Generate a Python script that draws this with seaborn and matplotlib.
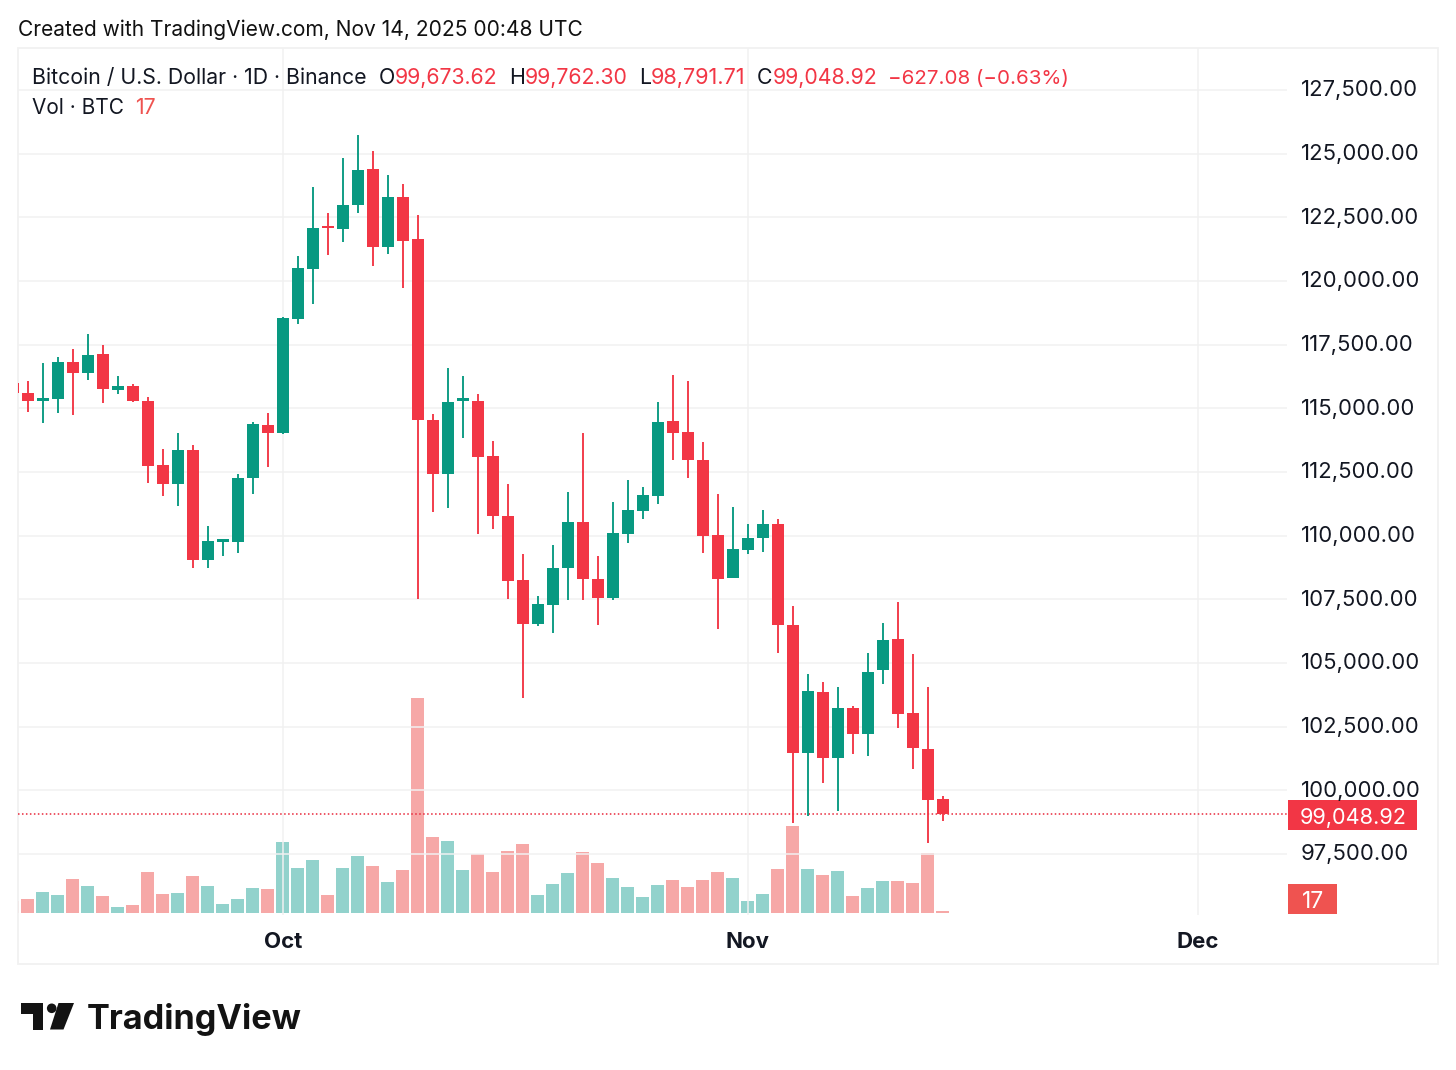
import pandas as pd
import matplotlib
matplotlib.use("Agg")
import matplotlib.pyplot as plt
import matplotlib.transforms as mtrans
import seaborn as sns
from matplotlib.patches import Rectangle, Polygon, Circle

sns.set_theme(style="white")
plt.rcParams["font.family"] = ["Inter", "DejaVu Sans"]

# === Data ===
days = list(range(-18, 45))  # days counted from Oct 1
opens = [115990, 115590, 115300, 115370, 116830, 116400, 117120, 115730, 115860, 115280, 112760, 112030, 113360,
         109030, 109760, 109760, 112280, 114330, 114040, 118520, 120480, 122120, 122040, 122970, 124390, 121350,
         123300, 121640, 114540, 112430, 115300, 115300, 113130, 110780, 108250, 106530, 107290, 108740, 110540,
         108310, 107540, 110080, 110980, 111570, 114500, 114060, 112970, 110010, 108340, 109440, 109900, 110470,
         106480, 101450, 103850, 101280, 103230, 102220, 104720, 105940, 103020, 101630, 99673.62]
highs = [115990, 116080, 116770, 117000, 117330, 117920, 117470, 116280, 115940, 115430, 113390, 114020, 113560,
         110390, 109830, 112410, 114460, 114820, 118570, 120980, 123680, 122680, 124840, 125750, 125120, 124170,
         123800, 122580, 114790, 116570, 116280, 115560, 113700, 112040, 109290, 107630, 109630, 111730, 114020,
         109190, 111310, 112170, 111900, 115240, 116320, 116070, 113670, 111650, 111120, 110450, 111000, 110640,
         107240, 104550, 104240, 104040, 103300, 105390, 106580, 107380, 105350, 104070, 99762.30]
lows = [115600, 114870, 114410, 114800, 114740, 116110, 115220, 115560, 115250, 112060, 111570, 111150, 108720,
        108740, 109210, 109310, 111640, 112710, 114000, 118320, 119110, 121030, 121540, 122680, 120600, 121060,
        119740, 107500, 110940, 111070, 113820, 110080, 110250, 107500, 103610, 106450, 106180, 107470, 107460,
        106490, 107480, 109720, 110670, 111250, 112980, 112250, 109330, 106320, 108340, 109270, 109370, 105380,
        98730, 98990, 100300, 99190, 101410, 101350, 104190, 102460, 100820, 97940, 98791.71]
closes = [115600, 115300, 115380, 116830, 116400, 117080, 115750, 115880, 115290, 112750, 112030, 113350, 109030,
          109780, 109820, 112250, 114370, 114040, 118550, 120500, 122080, 122070, 122980, 124350, 121350, 123300,
          121580, 114530, 112430, 115240, 115350, 113100, 110780, 108230, 106530, 107300, 108720, 110540, 108300,
          107560, 110090, 111000, 111580, 114460, 114040, 112960, 110000, 108300, 109460, 109910, 110470, 106490,
          101480, 103890, 101280, 103230, 102220, 104630, 105900, 103010, 101670, 99630, 99048.92]
volume = [99, 116, 176, 153, 289, 227, 145, 48, 65, 349, 159, 167, 312, 227, 77, 116, 213, 198, 598, 380, 448, 153,
          380, 482, 394, 261, 363, 1825, 643, 606, 363, 499, 343, 524, 584, 153, 244, 334, 516, 425, 295, 221, 130,
          235, 281, 221, 281, 343, 295, 99, 159, 371, 734, 371, 320, 357, 145, 207, 266, 266, 252, 507, 17]

price_ticks = [97500 + 2500 * i for i in range(13)]
month_ticks = [0, 31, 61]
month_labels = ["Oct", "Nov", "Dec"]

# === Colours ===
GREEN = "#089981"
RED = "#F23645"
VOL_GREEN = "#26A69A"
VOL_RED = "#EF5350"
GRID = "#F1F1F1"
INK = "#131722"

df = pd.DataFrame({"day": days, "open": opens, "high": highs, "low": lows, "close": closes, "volume": volume})
df["side"] = ["up" if c >= o else "down" for o, c in zip(df["open"], df["close"])]
df["body"] = df["side"].map({"up": GREEN, "down": RED})

W, H = 1456, 1070
fig = plt.figure(figsize=(W / 100, H / 100), dpi=100, facecolor="white")


def fx(px):
    return px / W


def fy(px):
    return 1 - px / H


# === Outer frame ===
fig.add_artist(Rectangle((fx(18), fy(964)), fx(1420), 916 / H, fill=False, edgecolor=GRID, lw=1.3,
                         transform=fig.transFigure))

ax = fig.add_axes([fx(18), fy(915), fx(1269), 867 / H])
ax.set_facecolor("none")
for side in ax.spines.values():
    side.set_visible(False)

# === Volume pane ===
vol_ax = ax.twinx()
sns.barplot(data=df, x="day", y="volume", hue="side", palette={"up": VOL_GREEN, "down": VOL_RED},
            hue_order=["up", "down"], native_scale=True, dodge=False, width=0.87, saturation=1, alpha=0.5,
            legend=False, linewidth=0, ax=vol_ax)
vol_ax.set_ylim(-20, 7350)
vol_ax.set_ylabel("")
vol_ax.set_xlabel("")
vol_ax.set_yticks([])
for side in vol_ax.spines.values():
    side.set_visible(False)

# === Candles ===
ax.vlines(df["day"], df["low"], df["high"], colors=df["body"], lw=1.35, zorder=3)
ax.bar(df["day"], (df["close"] - df["open"]).abs().clip(lower=90), bottom=df[["open", "close"]].min(axis=1),
       width=0.8, color=df["body"], linewidth=0, zorder=4)

ax.set_zorder(vol_ax.get_zorder() + 1)
ax.set_xlim(-17.647, 66.953)
ax.set_ylim(95102, 129149)
vol_ax.set_xlim(-17.647, 66.953)

# === Grid and axes ===
ax.set_yticks(price_ticks)
ax.set_yticklabels([f"{p:,.2f}" for p in price_ticks], fontsize=15.9, color=INK)
ax.yaxis.tick_right()
ax.tick_params(axis="y", length=0, pad=10)
nudge = mtrans.ScaledTranslation(0, 1.5 / 100, fig.dpi_scale_trans)
for lab in ax.get_yticklabels():
    lab.set_transform(lab.get_transform() + nudge)
ax.set_xticks(month_ticks)
ax.set_xticklabels(month_labels, fontsize=16, fontweight="bold", color=INK)
ax.tick_params(axis="x", length=0, pad=12)
ax.grid(True, color=GRID, lw=1.1, zorder=0)
ax.set_axisbelow(True)

# === Last price line ===
ax.axhline(closes[-1], color="#E8273A", lw=1.1, ls=(0, (1, 1.6)), zorder=2)


def tag(x0, x1, y0, y1, color, label, tx, size):
    fig.add_artist(Rectangle((fx(x0), fy(y1)), fx(x1 - x0), (y1 - y0) / H, facecolor=color, edgecolor="none",
                             transform=fig.transFigure))
    fig.text(fx(tx), fy((y0 + y1) / 2 + 1), label, color="white", fontsize=size, ha="left", va="center_baseline")


tag(1288, 1417, 800, 830, RED, "99,048.92", 1300, 15.6)
tag(1288, 1337, 884, 914, "#EF5350", "17", 1302, 16.5)

# === Header and legend ===
fig.text(fx(18), fy(36), "Created with TradingView.com, Nov 14, 2025 00:48 UTC", fontsize=15.08, color="#111111",
         ha="left", va="baseline")

legend_row = [(32, "Bitcoin / U.S. Dollar · 1D · Binance", INK, 15.3), (379, "O", INK, 15.3),
              (395, "99,673.62", RED, 15.3), (509, "H", INK, 15.3), (525, "99,762.30", RED, 15.3),
              (639, "L", INK, 15.3), (651, "98,791.71", RED, 15.6), (757, "C", INK, 15.3),
              (773, "99,048.92", RED, 15.3), (888, "−627.08 (−0.63%)", RED, 14.8)]
for x, label, color, size in legend_row:
    fig.text(fx(x), fy(84), label, fontsize=size, color=color, ha="left", va="baseline")
fig.text(fx(32), fy(114), "Vol · BTC", fontsize=15, color=INK, ha="left", va="baseline")
fig.text(fx(135), fy(114), "17", fontsize=15.3, color=VOL_RED, ha="left", va="baseline")

# === Logo ===
LOGO = "#131313"
fig.add_artist(Polygon([(fx(21), fy(1003)), (fx(43), fy(1003)), (fx(43), fy(1029.5)), (fx(32.5), fy(1029.5)),
                        (fx(32.5), fy(1014)), (fx(21), fy(1014))], closed=True, facecolor=LOGO, edgecolor="none",
                       transform=fig.transFigure))
fig.add_artist(Polygon([(fx(58.5), fy(1003)), (fx(74), fy(1003)), (fx(63.5), fy(1029.5)), (fx(50), fy(1029.5))],
                       closed=True, facecolor=LOGO, edgecolor="none", transform=fig.transFigure))
fig.add_artist(Circle((51.7, H - 1008.3), 4.8, facecolor=LOGO, edgecolor="none", transform=None))
fig.text(fx(87), fy(1029.5), "TradingView", fontsize=24.7, fontweight="bold", color=LOGO, ha="left", va="baseline")

plt.savefig("out.png", dpi=100)
plt.close()
